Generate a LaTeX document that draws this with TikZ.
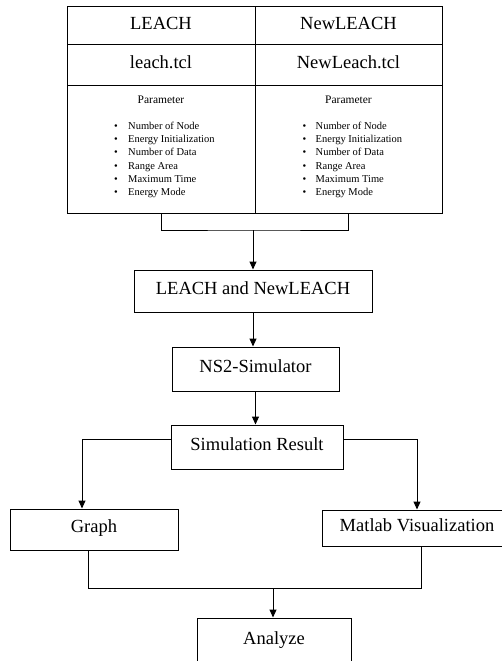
\documentclass[tikz,border=0pt]{standalone}
\usepackage{fontspec}
\setmainfont{Liberation Serif}
\usetikzlibrary{arrows.meta,calc}

\begin{document}
\begin{tikzpicture}[
        x=1pt,y=-1pt,
        cell/.style={draw,line width=1pt,inner sep=0pt,
            font=\fontsize{18.5}{20}\selectfont,text height=13pt,text depth=5pt},
        box/.style={draw,line width=1pt,inner sep=0pt,
            font=\fontsize{18.5}{20}\selectfont,text height=13pt,text depth=7pt},
        item/.style={anchor=west,inner sep=0pt,text height=7.5pt,text depth=2.5pt,
            font=\fontsize{10.5}{12}\selectfont},
        arr/.style={line width=1pt,-{Triangle[width=7pt,length=8pt]}},
    ]
\useasboundingbox (0,0) rectangle (502,661);
\clip (0,0) rectangle (502,661);

% table of the two protocols
\node[cell,minimum width=188,minimum height=38] (leach) at (161,26) {LEACH};
\node[cell,minimum width=187,minimum height=38] (newleach) at (348.5,26) {NewLEACH};
\node[cell,minimum width=188,minimum height=40] (leachtcl) at (161,65) {leach.tcl};
\node[cell,minimum width=187,minimum height=40] (newleachtcl) at (348.5,65) {NewLeach.tcl};
\node[draw,line width=1pt,minimum width=188,minimum height=128] (parleft) at (161,149) {};
\node[draw,line width=1pt,minimum width=187,minimum height=128] (parright) at (348.5,149) {};

% parameter lists
\node[inner sep=0pt,font=\fontsize{11.5}{12}\selectfont] (parl) at (161,100) {Parameter};
\node[inner sep=0pt,font=\fontsize{11.5}{12}\selectfont] (parr) at (348.5,100) {Parameter};
\foreach \t [count=\i] in {Number of Node,Energy Initialization,Number of Data,
        Range Area,Maximum Time,Energy Mode} {
    \node[item] (l\i) at (114,127+13.2*\i-13.2) {\makebox[14pt][l]{\textbullet}\t};
    \node[item] (r\i) at (302.5,127+13.2*\i-13.2) {\makebox[13pt][l]{\textbullet}\t};
}

% flow
\node[box,minimum width=238,minimum height=42] (lnl) at (253,291) {LEACH and NewLEACH};
\node[box,minimum width=167,minimum height=44] (ns2) at (255.5,369) {NS2-Simulator};
\node[box,minimum width=172,minimum height=44] (sim) at (257,447) {Simulation Result};
\node[box,minimum width=168,minimum height=41] (graph) at (94,529.5) {Graph};
\node[box,minimum width=190,minimum height=36] (mat) at (417,528) {Matlab Visualization};
\node[box,minimum width=154,minimum height=46] (analyze) at (274,641) {Analyze};

\coordinate (joint) at (253,230);
\coordinate (join) at (273,588);

\draw[line width=1pt] (parleft.south) |- (joint) -| (parright.south);
\draw[arr] (joint) -- (lnl.north);
\draw[arr] (lnl.south) -- (lnl.south |- ns2.north);
\draw[arr] (ns2.south) -- (ns2.south |- sim.north);
\draw[arr] ([yshift=8pt]sim.west) -| ([xshift=-12pt]graph.north);
\draw[arr] ([yshift=8pt]sim.east) -| (mat.north);
\draw[line width=1pt] ([xshift=-6pt]graph.south) |- (join);
\draw[line width=1pt] ([xshift=4pt]mat.south) |- (join);
\draw[arr] (join) -- (join |- analyze.north);
\end{tikzpicture}
\end{document}
